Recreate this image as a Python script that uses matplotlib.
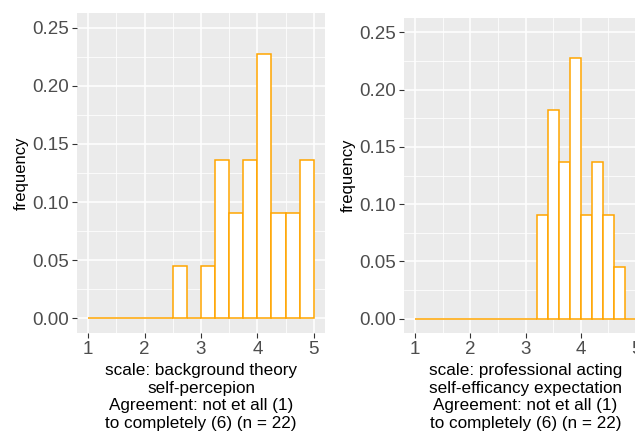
import numpy as np
import matplotlib
matplotlib.use("Agg")
import matplotlib.pyplot as plt
from matplotlib.ticker import MultipleLocator

plt.rcParams['font.family'] = ['Liberation Sans', 'DejaVu Sans']

n = 22

# left panel: background theory self-perception, bins of 0.25
left_edges = [1.0, 1.25, 1.5, 1.75, 2.0, 2.25, 2.5, 2.75, 3.0, 3.25, 3.5,
              3.75, 4.0, 4.25, 4.5, 4.75]
left_counts = [0, 0, 0, 0, 0, 0, 1, 0, 1, 3, 2, 3, 5, 2, 2, 3]

# right panel: professional acting self-efficancy expectation, bins of 0.2
right_edges = [1.0, 1.2, 1.4, 1.6, 1.8, 2.0, 2.2, 2.4, 2.6, 2.8, 3.0, 3.2,
               3.4, 3.6, 3.8, 4.0, 4.2, 4.4, 4.6, 4.8]
right_counts = [0, 0, 0, 0, 0, 0, 0, 0, 0, 0, 0, 2, 4, 3, 5, 2, 3, 2, 1, 0]

left_label = ("scale: background theory\nself-percepion\n"
              "Agreement: not et all (1)\nto completely (6) (n = 22)")
right_label = ("scale: professional acting\nself-efficancy expectation\n"
               "Agreement: not et all (1)\nto completely (6) (n = 22)")

W, H = 635, 432
fig = plt.figure(figsize=(W / 100, H / 100), dpi=100)


def panel(top_px, left_px, right_px, edges, counts, width, xlabel):
    h_px = 333 - top_px
    ax = fig.add_axes([left_px / W, 1 - 333 / H, (right_px - left_px) / W,
                       h_px / H])
    ax.set_facecolor('#EBEBEB')
    freq = np.array(counts) / n
    ax.bar(edges, freq, width=width, align='edge', color='white',
           edgecolor='#FFA500', linewidth=1.1, zorder=3)
    ax.set_xlim(0.8, 5.2)
    ax.set_ylim(-0.0125, 0.2625)
    ax.xaxis.set_major_locator(MultipleLocator(1))
    ax.xaxis.set_minor_locator(MultipleLocator(0.5))
    ax.yaxis.set_minor_locator(MultipleLocator(0.025))
    ax.set_yticks([0, 0.05, 0.10, 0.15, 0.20, 0.25])
    ax.set_yticklabels(['0.00', '0.05', '0.10', '0.15', '0.20', '0.25'])
    ax.grid(which='major', color='white', linewidth=1.1, zorder=0)
    ax.grid(which='minor', color='white', linewidth=0.55, zorder=0)
    ax.set_axisbelow(True)
    for s in ax.spines.values():
        s.set_visible(False)
    ax.tick_params(which='major', length=3.5, width=0.8, color='#333333',
                   labelcolor='#4D4D4D', labelsize=13.5, pad=2)
    ax.tick_params(which='minor', length=0)
    ax.set_ylabel('frequency', fontsize=12, color='black', labelpad=3)
    ax.set_xlabel(xlabel, fontsize=12.3, color='black', linespacing=1.22)
    ax.xaxis.set_label_coords(0.5, -30 / h_px)
    return ax


panel(13, 77, 325, left_edges, left_counts, 0.25, left_label)
panel(18, 404, 647, right_edges, right_counts, 0.2, right_label)

fig.savefig('out.png', dpi=100)
